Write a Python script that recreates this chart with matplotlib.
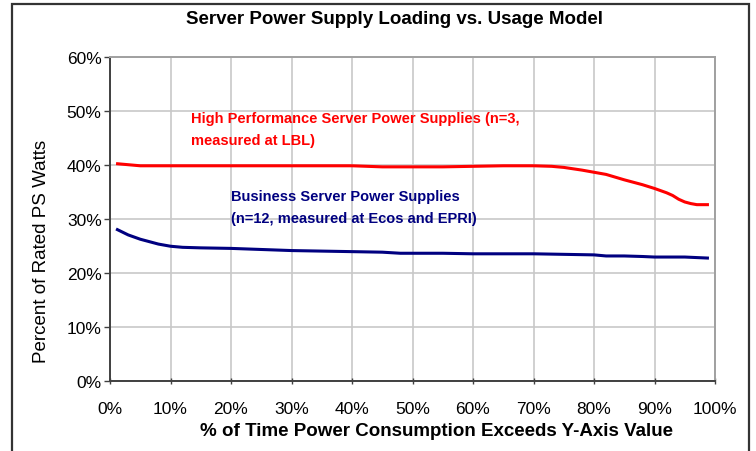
import matplotlib
matplotlib.use("Agg")
from matplotlib import pyplot as plt
from matplotlib.patches import Rectangle
from matplotlib.ticker import PercentFormatter

plt.rcParams['font.family'] = ['Liberation Sans', 'DejaVu Sans']

# % of time power consumption exceeds y value
hp_x = [1, 3, 5, 10, 20, 30, 40, 45, 50, 55, 60, 65, 70, 73, 75, 78, 80, 82, 85, 88, 90, 92, 93, 94, 95, 96, 97, 98, 99]
hp_y = [40.2, 40.0, 39.8, 39.8, 39.8, 39.8, 39.8, 39.6, 39.6, 39.6, 39.7, 39.8, 39.8, 39.7, 39.5, 39.0, 38.6, 38.2, 37.2, 36.3, 35.6, 34.8, 34.3, 33.6, 33.1, 32.8, 32.6, 32.6, 32.6]

bs_x = [1, 3, 5, 8, 10, 12, 15, 20, 25, 30, 35, 40, 45, 48, 55, 60, 65, 70, 75, 80, 82, 85, 88, 90, 95, 99]
bs_y = [28.1, 27.0, 26.2, 25.3, 24.9, 24.7, 24.6, 24.5, 24.3, 24.1, 24.0, 23.9, 23.8, 23.6, 23.6, 23.5, 23.5, 23.5, 23.4, 23.3, 23.1, 23.1, 23.0, 22.9, 22.9, 22.7]

xticks = [0, 10, 20, 30, 40, 50, 60, 70, 80, 90, 100]
yticks = [0, 10, 20, 30, 40, 50, 60]

W, H = 756, 452
fig = plt.figure(figsize=(W / 100, H / 100), dpi=100)
ax = fig.add_axes([110 / W, 1 - 381.7 / H, 605 / W, 324 / H])

# outer chart border
fig.patches.append(Rectangle((12 / W, -0.05), (749 - 12) / W, 1.05 - 5 / H,
                             transform=fig.transFigure, fill=False,
                             edgecolor='#333333', linewidth=1.6))

ax.plot(hp_x, hp_y, color='#ff0000', lw=2.2, solid_capstyle='butt')
ax.plot(bs_x, bs_y, color='#000080', lw=2.2, solid_capstyle='butt')

ax.set_xlim(0, 100)
ax.set_ylim(0, 60)
ax.set_xticks(xticks)
ax.set_yticks(yticks)
ax.xaxis.set_major_formatter(PercentFormatter(decimals=0))
ax.yaxis.set_major_formatter(PercentFormatter(decimals=0))
ax.grid(True, color='#c8c8c8', lw=1.2)
ax.set_axisbelow(True)

for s in ['top', 'right']:
    ax.spines[s].set_color('#a0a0a0')
    ax.spines[s].set_linewidth(1.4)
for s in ['left', 'bottom']:
    ax.spines[s].set_color('#404040')
    ax.spines[s].set_linewidth(1.4)

ax.tick_params(axis='y', direction='out', length=4, width=1, color='#404040',
               labelsize=12.5, pad=2)
ax.tick_params(axis='x', direction='inout', length=5, width=1, color='#404040',
               labelsize=12.5, pad=12)

fig.text(395 / W, 1 - 20 / H, 'Server Power Supply Loading vs. Usage Model',
         ha='center', va='center', fontsize=13.5, fontweight='bold')
fig.text(437 / W, 1 - 432 / H, '% of Time Power Consumption Exceeds Y-Axis Value',
         ha='center', va='center', fontsize=13.5, fontweight='bold')
fig.text(42 / W, 1 - 251 / H, 'Percent of Rated PS Watts',
         ha='center', va='center', rotation=90, fontsize=13.5)

# series annotations
fig.text(191 / W, 1 - 130 / H,
         'High Performance Server Power Supplies (n=3,\nmeasured at LBL)',
         color='#ff0000', fontsize=10.5, fontweight='bold', ha='left', va='center',
         linespacing=1.8)
fig.text(231 / W, 1 - 208 / H,
         'Business Server Power Supplies\n(n=12, measured at Ecos and EPRI)',
         color='#000080', fontsize=10.5, fontweight='bold', ha='left', va='center',
         linespacing=1.8)

plt.savefig('out.png', dpi=100)
